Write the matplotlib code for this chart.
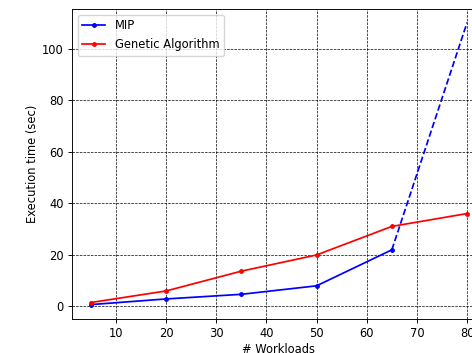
import matplotlib
matplotlib.use("Agg")
import matplotlib.pyplot as plt

workloads = [5, 20, 35, 50, 65]
mip_times = [0.6, 2.8, 4.6, 7.9, 21.9]
mip_ext_x = [65, 80]
mip_ext_y = [21.9, 110.3]
ga_workloads = [5, 20, 35, 50, 65, 80]
ga_times = [1.4, 5.9, 13.6, 19.9, 31.0, 36.0]

s = 0.83
plt.rcParams.update({
    'font.size': 10 * s,
    'lines.linewidth': 1.5 * s,
    'lines.markersize': 6 * s,
    'axes.linewidth': 0.8 * s,
    'xtick.major.size': 3.5 * s,
    'ytick.major.size': 3.5 * s,
    'xtick.major.width': 0.8 * s,
    'ytick.major.width': 0.8 * s,
    'xtick.major.pad': 2.6,
    'ytick.major.pad': 3.5 * s,
    'axes.labelpad': 2.6,
})

fig = plt.figure(figsize=(4.72, 3.53), dpi=100)
ax = fig.add_axes([0.1525, 0.0963, 0.877, 0.878])
ax.plot(workloads, mip_times, color='blue', marker='.', label='MIP')
ax.plot(mip_ext_x, mip_ext_y, color='blue', linestyle='--')
ax.plot(ga_workloads, ga_times, color='red', marker='.', label='Genetic Algorithm')
ax.set_xlim(1.25, 83.75)
ax.set_ylim(-5.0, 115.5)
ax.set_xticks([10, 20, 30, 40, 50, 60, 70, 80])
ax.set_yticks([0, 20, 40, 60, 80, 100])
ax.grid(True, color='black', linestyle='--', linewidth=0.5)
ax.set_xlabel('# Workloads')
ax.set_ylabel('Execution time (sec)')
ax.legend(loc='upper left')
fig.savefig('out.png', dpi=100)
